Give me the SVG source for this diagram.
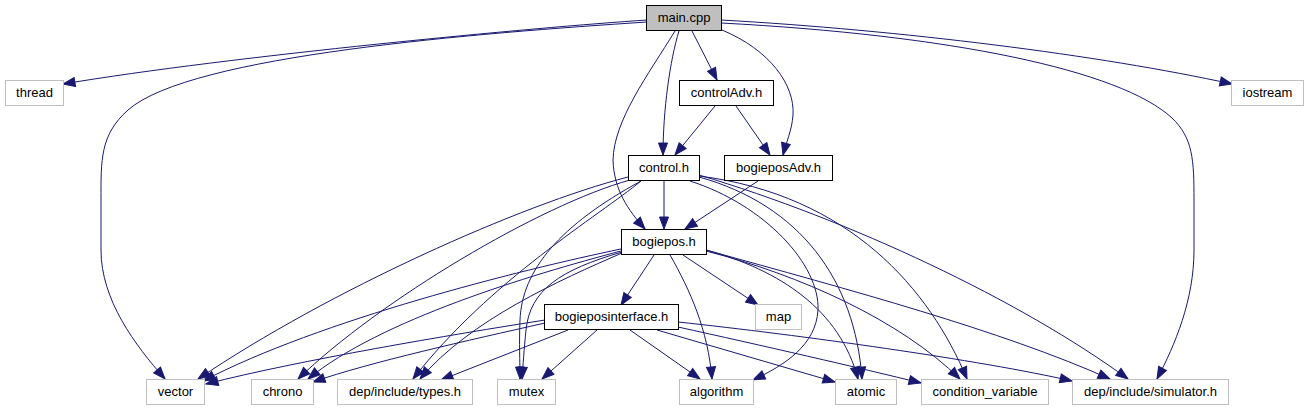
<svg xmlns="http://www.w3.org/2000/svg" width="1309" height="411" viewBox="0 0 1309 411">
<defs>
<style>
.n rect{fill:#ffffff;stroke:#000000;stroke-width:1}
.x rect{fill:#ffffff;stroke:#bfbfbf;stroke-width:1}
.m rect{fill:#bfbfbf;stroke:#000000;stroke-width:1}
text{font-family:"Liberation Sans",Arial,Helvetica,sans-serif;font-size:13px;fill:#000000;text-anchor:middle}
#edges path{fill:none;stroke:#191970;stroke-width:1;marker-end:url(#a)}
</style>
<marker id="a" markerUnits="userSpaceOnUse" markerWidth="13" markerHeight="11" refX="12" refY="5" orient="auto" overflow="visible">
<path d="M0,0.5 L12,5 L0,9.5 z" fill="#191970" stroke="#191970" stroke-width="1"/>
</marker>
</defs>
<rect width="1309" height="411" fill="#ffffff"/>
<g id="edges">
<path d="M647,20 C 540,27 230,56 63,84"/>
<path d="M647,22 C 480,33 190,55 128,110 C 100,135 101,160 101,200 L101,250 C 101,300 135,345 165,379"/>
<path d="M692,31 L717,80"/>
<path d="M679,31 C 670,60 663,110 663,155"/>
<path d="M675,31 C 648,75 614,120 613,160 C 614,190 628,210 645,229"/>
<path d="M722,30 C 770,50 795,85 793,115 C 792,130 786,143 783,155"/>
<path d="M721,23 C 950,35 1120,70 1172,118 C 1193,138 1194,160 1194,200 L1194,250 C 1194,300 1175,345 1157,379"/>
<path d="M721,20 C 900,30 1100,55 1232,84"/>
<path d="M715,106 L675,155"/>
<path d="M736,106 L770,155"/>
<path d="M664,181 L664,229"/>
<path d="M758,181 L685,229"/>
<path d="M628,177 C 520,205 330,290 198,379"/>
<path d="M630,180 C 540,205 380,300 298,379"/>
<path d="M641,181 C 600,215 490,280 413,379"/>
<path d="M641,181 C 560,225 522,270 520,320 C 519,345 520,360 520,379"/>
<path d="M690,181 C 765,205 820,265 818,310 C 816,345 785,365 753,380"/>
<path d="M699,177 C 800,205 855,280 862,379"/>
<path d="M699,176 C 850,195 930,290 967,379"/>
<path d="M699,175 C 850,220 1020,300 1128,379"/>
<path d="M654,255 L621,305"/>
<path d="M683,255 L758,305"/>
<path d="M670,255 C 690,290 708,330 712,379"/>
<path d="M621,249 C 520,270 320,320 203,381"/>
<path d="M621,251 C 530,275 380,320 308,379"/>
<path d="M622,253 C 560,280 470,320 420,379"/>
<path d="M622,252 C 560,270 530,290 526,330 C 524,350 523,365 522,379"/>
<path d="M706,250 C 780,270 840,310 858,379"/>
<path d="M706,251 C 800,275 900,320 960,379"/>
<path d="M706,250 C 850,290 1000,330 1110,379"/>
<path d="M545,320 C 450,335 300,360 206,384"/>
<path d="M545,323 C 470,340 370,362 313,382"/>
<path d="M568,330 L441,380"/>
<path d="M597,330 L542,379"/>
<path d="M630,330 L700,379"/>
<path d="M657,330 L835,382"/>
<path d="M678,327 C 760,345 860,368 921,383"/>
<path d="M678,322 C 800,335 980,360 1072,381"/>
</g>
<g id="node-main" class="m"><rect x="646.5" y="5.5" width="75" height="25"/><text x="684" y="21.5">main.cpp</text></g>
<g id="node-thread" class="x"><rect x="5.5" y="80.5" width="58" height="25"/><text x="34.5" y="96.5">thread</text></g>
<g id="node-controlAdv" class="n"><rect x="679.5" y="80.5" width="94" height="25"/><text x="726.5" y="96.5">controlAdv.h</text></g>
<g id="node-iostream" class="x"><rect x="1231.5" y="80.5" width="72" height="25"/><text x="1267.5" y="96.5">iostream</text></g>
<g id="node-control" class="n"><rect x="628.5" y="155.5" width="71" height="25"/><text x="664" y="171.5">control.h</text></g>
<g id="node-bogieposAdv" class="n"><rect x="724.5" y="155.5" width="108" height="25"/><text x="778.5" y="171.5">bogieposAdv.h</text></g>
<g id="node-bogiepos" class="n"><rect x="621.5" y="229.5" width="85" height="25"/><text x="664" y="245.5">bogiepos.h</text></g>
<g id="node-bogieposinterface" class="n"><rect x="544.5" y="304.5" width="134" height="25"/><text x="611.5" y="320.5">bogieposinterface.h</text></g>
<g id="node-map" class="x"><rect x="755.5" y="304.5" width="46" height="25"/><text x="778.5" y="320.5">map</text></g>
<g id="node-vector" class="x"><rect x="146.5" y="379.5" width="58" height="25"/><text x="175.5" y="395.5">vector</text></g>
<g id="node-chrono" class="x"><rect x="251.5" y="379.5" width="62" height="25"/><text x="282.5" y="395.5">chrono</text></g>
<g id="node-types" class="x"><rect x="337.5" y="379.5" width="135" height="25"/><text x="405" y="395.5">dep/include/types.h</text></g>
<g id="node-mutex" class="x"><rect x="497.5" y="379.5" width="58" height="25"/><text x="526.5" y="395.5">mutex</text></g>
<g id="node-algorithm" class="x"><rect x="679.5" y="379.5" width="74" height="25"/><text x="716.5" y="395.5">algorithm</text></g>
<g id="node-atomic" class="x"><rect x="835.5" y="379.5" width="61" height="25"/><text x="866" y="395.5">atomic</text></g>
<g id="node-condition_variable" class="x"><rect x="921.5" y="379.5" width="127" height="25"/><text x="985" y="395.5">condition_variable</text></g>
<g id="node-simulator" class="x"><rect x="1072.5" y="379.5" width="156" height="25"/><text x="1150.5" y="395.5">dep/include/simulator.h</text></g>
</svg>
